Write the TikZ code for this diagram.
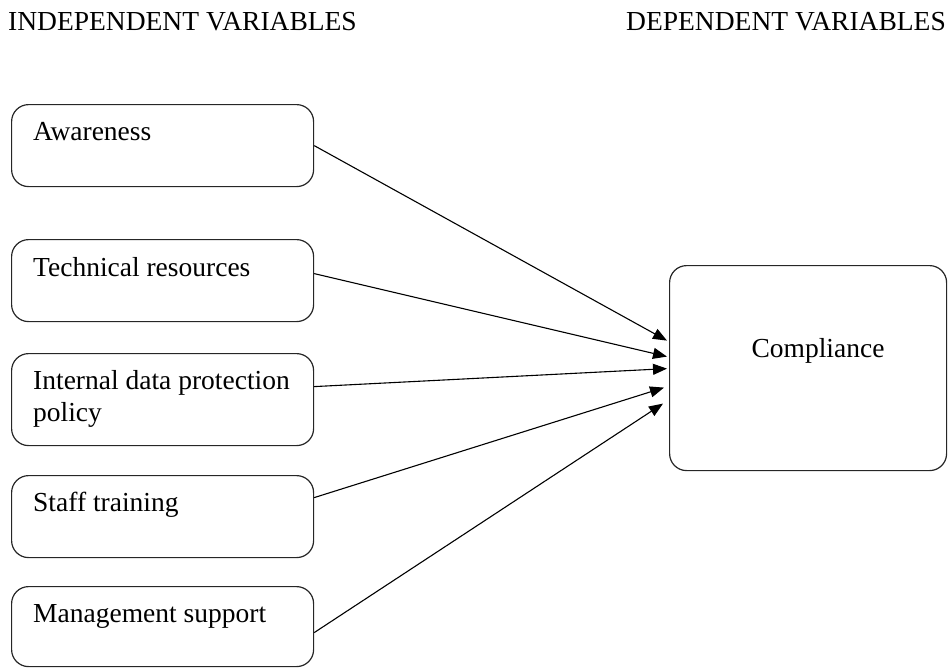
\documentclass[tikz,border=0pt]{standalone}
\usepackage{fontspec}
\setmainfont{Liberation Serif}
\usetikzlibrary{arrows.meta}
\begin{document}
\begin{tikzpicture}[x=1pt,y=-1pt,
  box/.style={draw=black!85,line width=1.2pt,rounded corners=17pt,inner sep=0pt,anchor=north west},
  lbl/.style={inner sep=0pt,anchor=base west,font=\fontsize{27.5}{32}\selectfont},
  conn/.style={line width=1.1pt,-{Triangle[length=14pt,width=11pt]}}]
\useasboundingbox (0,0) rectangle (948,667);
\node[lbl] (h1) at (8,30) {INDEPENDENT VARIABLES};
\node[lbl,anchor=base east] (h2) at (946,30) {DEPENDENT VARIABLES};
\node[box,minimum width=302pt,minimum height=82pt] (b1) at (11,104) {};
\node[box,minimum width=302pt,minimum height=82pt] (b2) at (11,239) {};
\node[box,minimum width=302pt,minimum height=92pt] (b3) at (11,353) {};
\node[box,minimum width=302pt,minimum height=82pt] (b4) at (11,475) {};
\node[box,minimum width=302pt,minimum height=80pt] (b5) at (11,586) {};
\node[box,minimum width=277pt,minimum height=205pt] (c) at (669,265) {};
\node[lbl] (t1) at (33,140) {Awareness};
\node[lbl] (t2) at (33,276) {Technical resources};
\node[lbl] (t3) at (33,389) {Internal data protection};
\node[lbl] (t3b) at (33,421) {policy};
\node[lbl] (t4) at (33,511) {Staff training};
\node[lbl] (t5) at (33,622) {Management support};
\node[lbl,anchor=base] (tc) at (818,357) {Compliance};
\draw[conn] (b1.east) -- ([xshift=-2pt,yshift=27.5pt]c.west);
\draw[conn] ([yshift=7pt]b2.east) -- ([xshift=-2pt,yshift=11.5pt]c.west);
\draw[conn] ([yshift=13pt]b3.east) -- ([xshift=-2pt,yshift=-0.5pt]c.west);
\draw[conn] ([yshift=19pt]b4.east) -- ([xshift=-5pt,yshift=-19.5pt]c.west);
\draw[conn] ([yshift=-6pt]b5.east) -- ([xshift=-6pt,yshift=-35.5pt]c.west);
\end{tikzpicture}
\end{document}
